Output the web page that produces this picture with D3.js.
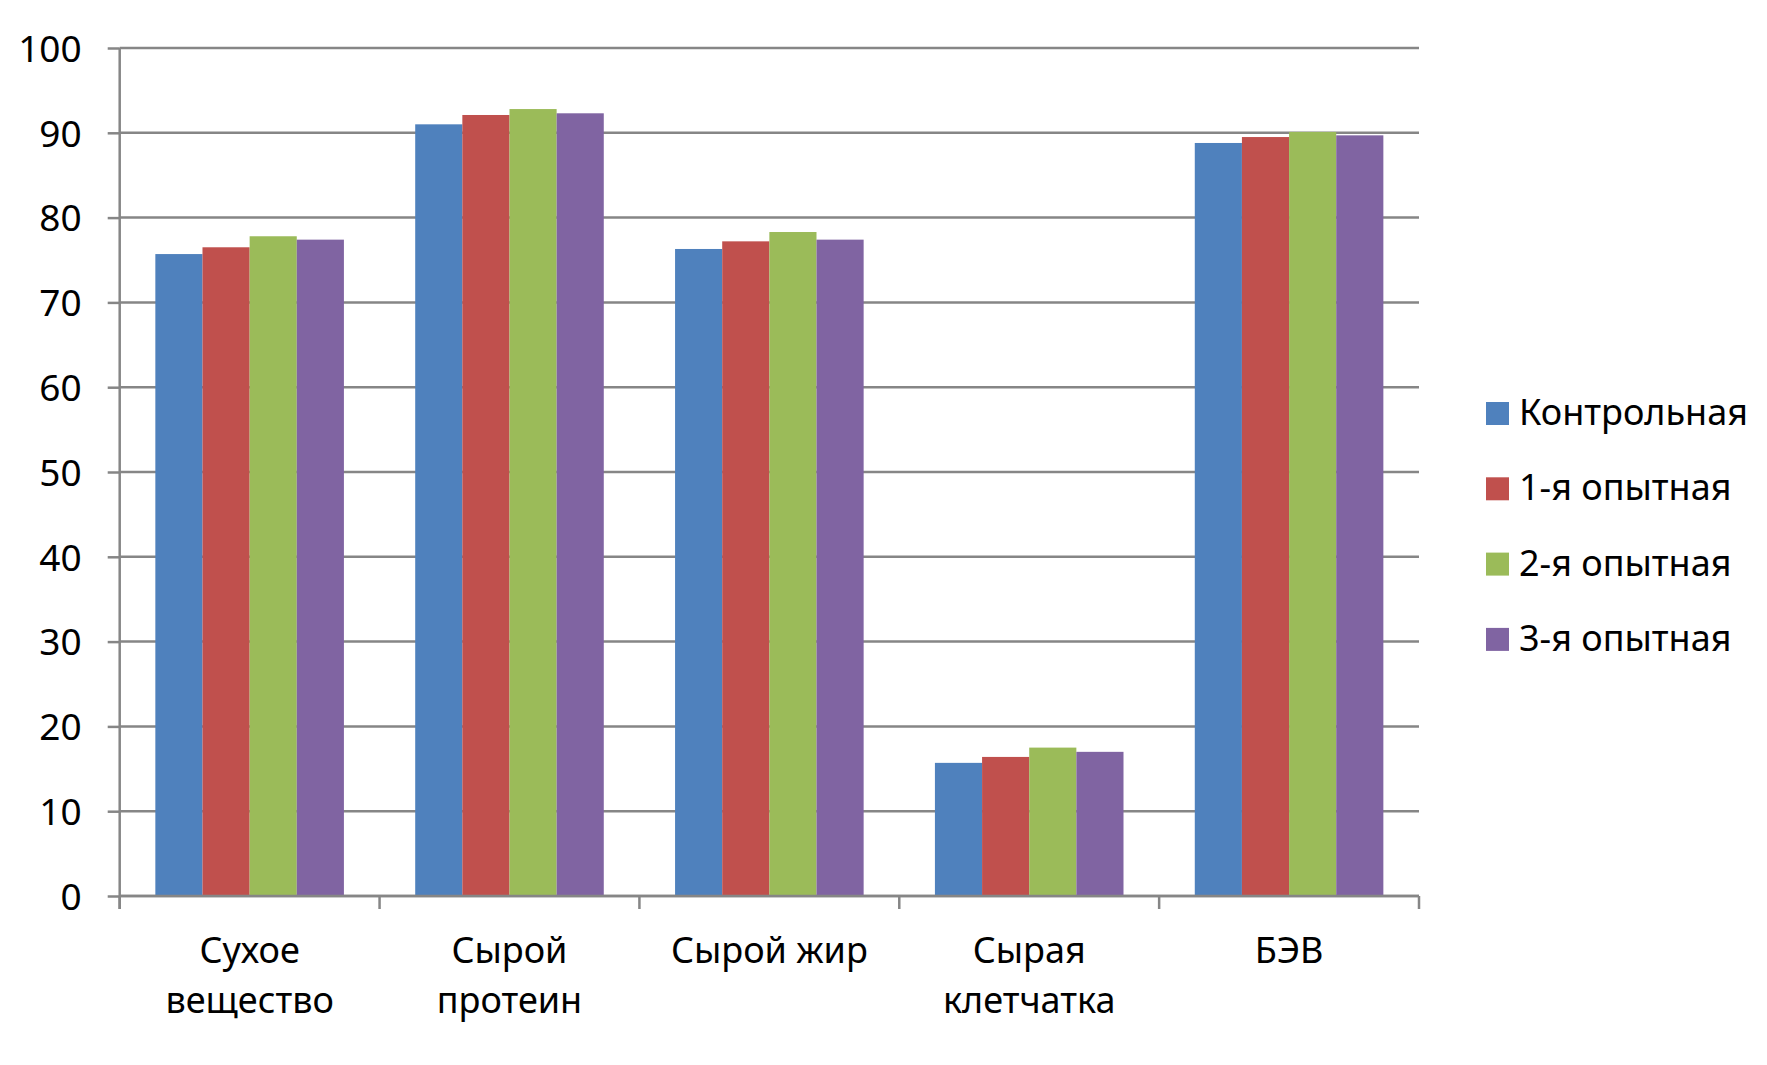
<!DOCTYPE html>
<html>
<head>
<meta charset="utf-8">
<script src="https://cdn.jsdelivr.net/npm/d3@7"></script>
<style>
  html, body { margin: 0; padding: 0; background: #fff; }
  svg { display: block; font-family: "Noto Sans", "Open Sans", sans-serif; }
</style>
</head>
<body>
<svg id="chart" width="1767" height="1065"></svg>
<script>
const categories = [["Сухое", "вещество"], ["Сырой", "протеин"], ["Сырой жир"], ["Сырая", "клетчатка"], ["БЭВ"]];
const seriesNames = ["Контрольная", "1-я опытная", "2-я опытная", "3-я опытная"];
const seriesColors = ["#4F81BD", "#C0504D", "#9BBB59", "#8064A2"];
const control = [75.7, 91.0, 76.3, 15.7, 88.8];
const exp1 = [76.5, 92.1, 77.2, 16.4, 89.5];
const exp2 = [77.8, 92.8, 78.3, 17.5, 90.1];
const exp3 = [77.4, 92.3, 77.4, 17.0, 89.7];
const yTicks = [0, 10, 20, 30, 40, 50, 60, 70, 80, 90, 100];

(function () {
const series = [control, exp1, exp2, exp3];
const svg = d3.select("#chart");

const pL = 119.7, pR = 1419, pT = 48, pB = 896;
const catKeys = categories.map((c, i) => i);
const x0 = d3.scaleBand().domain(catKeys).range([pL, pR]).padding(0);
const x1 = d3.scaleBand().domain(d3.range(series.length)).range([0, x0.bandwidth()])
  .paddingInner(0).paddingOuter(0.756);
const y = d3.scaleLinear().domain([0, 100]).range([pB, pT]);

const gridColor = "#868686";

// y axis ticks + labels
const yAxis = d3.axisLeft(y).tickValues(yTicks).tickSize(12).tickPadding(0).tickFormat(d3.format("d"));
const gy = svg.append("g").attr("transform", `translate(${pL},0)`).call(yAxis);
gy.select(".domain").remove();
gy.selectAll(".tick line").attr("stroke", gridColor).attr("stroke-width", 2.5);
gy.selectAll(".tick text").attr("x", -38).attr("dy", "0.36em")
  .attr("font-size", 37).attr("fill", "#000")
  .attr("font-family", "'Noto Sans', sans-serif");

// gridlines
svg.append("g").selectAll("line").data(yTicks).join("line")
  .attr("x1", pL).attr("x2", pR)
  .attr("y1", d => y(d)).attr("y2", d => y(d))
  .attr("stroke", gridColor).attr("stroke-width", 2.5);

// bars
const groups = svg.append("g").selectAll("g").data(catKeys).join("g")
  .attr("transform", d => `translate(${x0(d)},0)`);
groups.selectAll("rect").data(ci => series.map((s, si) => ({ si, v: s[ci] }))).join("rect")
  .attr("x", d => x1(d.si)).attr("width", x1.bandwidth())
  .attr("y", d => y(d.v)).attr("height", d => y(0) - y(d.v))
  .attr("fill", d => seriesColors[d.si]);

// y axis line
svg.append("line").attr("x1", pL).attr("x2", pL).attr("y1", pT).attr("y2", pB + 13)
  .attr("stroke", gridColor).attr("stroke-width", 2.5);

// x axis
const bounds = catKeys.map(k => x0(k)).concat([pR]);
svg.append("line").attr("x1", pL).attr("x2", pR).attr("y1", pB).attr("y2", pB)
  .attr("stroke", gridColor).attr("stroke-width", 2.5);
svg.append("g").selectAll("line").data(bounds).join("line")
  .attr("x1", d => d).attr("x2", d => d).attr("y1", pB).attr("y2", pB + 13)
  .attr("stroke", gridColor).attr("stroke-width", 2.5);

// category labels
const labels = svg.append("g").selectAll("text").data(catKeys).join("text")
  .attr("text-anchor", "middle").attr("font-size", 36).attr("fill", "#000")
  .attr("x", d => x0(d) + x0.bandwidth() / 2);
labels.selectAll("tspan").data(d => categories[d].map((t, i) => ({ t, i, d }))).join("tspan")
  .attr("x", d => x0(d.d) + x0.bandwidth() / 2)
  .attr("y", d => 963 + d.i * 50)
  .text(d => d.t);

// legend
const lg = svg.append("g").selectAll("g").data(seriesNames).join("g")
  .attr("transform", (d, i) => `translate(1486, ${425 + i * 75.3})`);
lg.append("rect").attr("x", 0).attr("y", -23).attr("width", 23).attr("height", 23)
  .attr("fill", (d, i) => seriesColors[i]);
lg.append("text").attr("x", 33).attr("y", 0).attr("font-size", 36).attr("fill", "#000").text(d => d);
})();
</script>
</body>
</html>
